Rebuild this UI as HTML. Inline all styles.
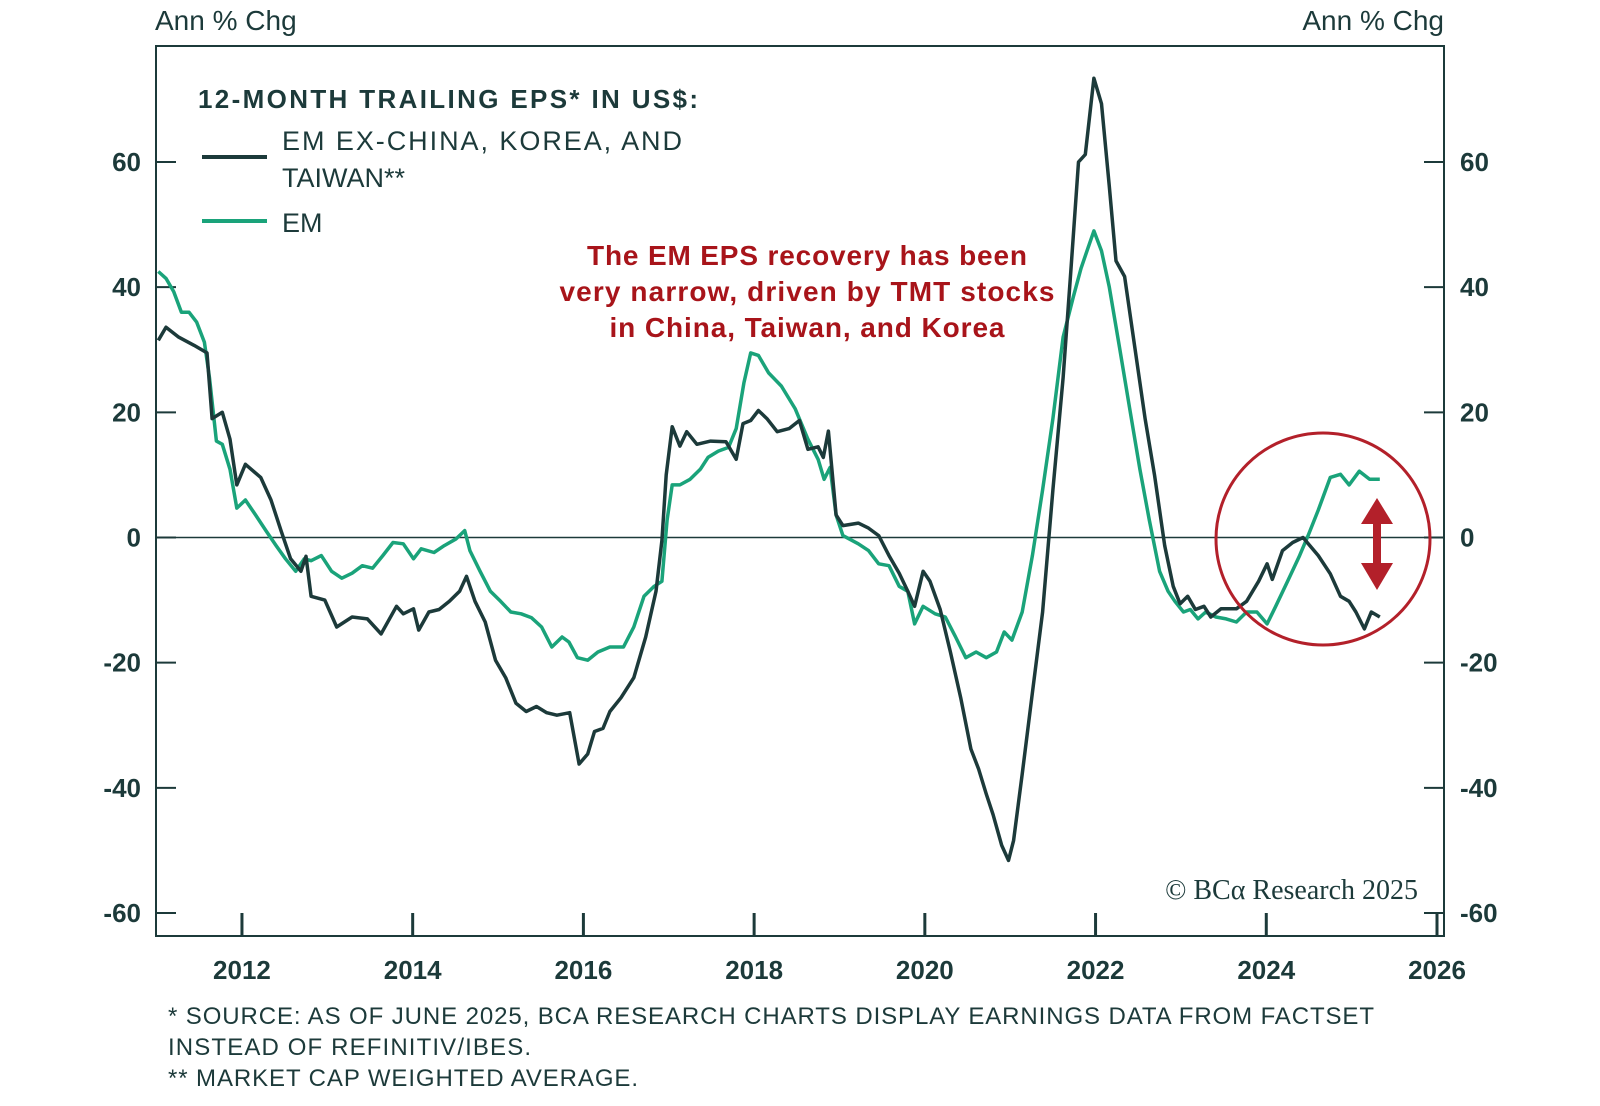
<!DOCTYPE html>
<html><head><meta charset="utf-8"><style>
html,body{margin:0;padding:0;background:#fff;}
svg{display:block;font-family:"Liberation Sans",sans-serif;}
</style></head><body>
<svg id="chart" width="1600" height="1106" viewBox="0 0 1600 1106" xmlns="http://www.w3.org/2000/svg">
<rect x="0" y="0" width="1600" height="1106" fill="#fff"/>
<text x="155" y="30" font-size="28" fill="#1c3a3a">Ann % Chg</text>
<text x="1444" y="30" font-size="28" fill="#1c3a3a" text-anchor="end">Ann % Chg</text>
<g id="grid"></g>
<g id="series"></g>
<rect x="156" y="46" width="1288" height="890" fill="none" stroke="#1c3a3a" stroke-width="2"/>
<g>
<text x="198" y="108" font-size="26" fill="#1c3a3a" font-weight="bold" textLength="500">12-MONTH TRAILING EPS* IN US$:</text>
<line x1="202" y1="157" x2="267" y2="157" stroke="#1c3a3a" stroke-width="4"/>
<text x="282" y="150" font-size="27" fill="#1c3a3a" textLength="400">EM EX-CHINA, KOREA, AND</text>
<text x="282" y="187" font-size="27" fill="#1c3a3a">TAIWAN**</text>
<line x1="202" y1="221" x2="267" y2="221" stroke="#1aa37a" stroke-width="4"/>
<text x="282" y="232" font-size="27" fill="#1c3a3a">EM</text>
</g>
<g fill="#a8141a" font-size="28" text-anchor="middle" font-weight="bold">
<text x="807" y="265" textLength="440">The EM EPS recovery has been</text>
<text x="807" y="301" textLength="495">very narrow, driven by TMT stocks</text>
<text x="807" y="337" textLength="395">in China, Taiwan, and Korea</text>
</g>
<ellipse cx="1323" cy="539" rx="107" ry="106" fill="none" stroke="#b3202a" stroke-width="3"/>
<g fill="#b3202a">
<rect x="1373" y="520" width="8" height="48"/>
<polygon points="1377,498 1361,524 1393,524"/>
<polygon points="1377,590 1361,563 1393,563"/>
</g>
<text x="1418" y="899" font-family="Liberation Serif, serif" font-size="28" fill="#1c3a3a" text-anchor="end">© BCα Research 2025</text>
<g font-size="24" fill="#1c3a3a">
<text x="168" y="1024" textLength="1206">* SOURCE: AS OF JUNE 2025, BCA RESEARCH CHARTS DISPLAY EARNINGS DATA FROM FACTSET</text>
<text x="168" y="1055" textLength="363">INSTEAD OF REFINITIV/IBES.</text>
<text x="168" y="1086" textLength="470">** MARKET CAP WEIGHTED AVERAGE.</text>
</g>
</svg>
<script>
const yTicks=[60,40,20,0,-20,-40,-60];
const xTickYears=[2012,2014,2016,2018,2020,2022,2024,2026];
const exDates=[2011.02,2011.11,2011.26,2011.44,2011.59,2011.65,2011.77,2011.86,2011.94,2012.04,2012.22,2012.34,2012.46,2012.57,2012.69,2012.75,2012.81,2012.97,2013.11,2013.29,2013.47,2013.63,2013.81,2013.89,2014.01,2014.07,2014.19,2014.31,2014.43,2014.55,2014.63,2014.73,2014.85,2014.97,2015.09,2015.21,2015.33,2015.45,2015.57,2015.69,2015.84,2015.95,2016.05,2016.13,2016.23,2016.31,2016.44,2016.59,2016.73,2016.85,2016.92,2016.97,2017.04,2017.13,2017.21,2017.33,2017.49,2017.67,2017.79,2017.87,2017.96,2018.05,2018.15,2018.27,2018.41,2018.53,2018.63,2018.75,2018.81,2018.87,2018.96,2019.04,2019.22,2019.34,2019.46,2019.58,2019.70,2019.80,2019.88,2019.98,2020.06,2020.18,2020.30,2020.42,2020.54,2020.63,2020.72,2020.80,2020.90,2020.98,2021.04,2021.14,2021.26,2021.38,2021.50,2021.62,2021.71,2021.80,2021.88,2021.98,2022.07,2022.16,2022.24,2022.34,2022.46,2022.58,2022.69,2022.81,2022.91,2022.99,2023.08,2023.17,2023.27,2023.35,2023.47,2023.65,2023.77,2023.91,2024.01,2024.07,2024.19,2024.31,2024.43,2024.61,2024.75,2024.87,2024.97,2025.05,2025.15,2025.23,2025.33];
const exValues=[31.5,33.6,32,30.7,29.5,19,20,15.7,8.4,11.7,9.6,6,1,-3.4,-5.4,-3,-9.4,-10,-14.3,-12.7,-13,-15.4,-11,-12.2,-11.4,-14.8,-11.9,-11.5,-10.2,-8.6,-6.2,-10.2,-13.5,-19.6,-22.4,-26.5,-27.8,-27,-28,-28.4,-28,-36.2,-34.6,-31,-30.5,-27.8,-25.6,-22.4,-15.9,-8.6,-0.5,10,17.7,14.6,16.9,14.9,15.4,15.3,12.5,18.2,18.7,20.3,19,16.9,17.4,18.7,14.1,14.5,12.8,17,3.6,1.9,2.3,1.5,0.3,-2.9,-5.7,-8.6,-11,-5.4,-7,-11.5,-18.3,-25.6,-33.8,-37,-41,-44.3,-49.2,-51.6,-48.4,-37.8,-24.8,-11.9,7.6,25.5,42.5,60,61.2,73.4,69.3,56.3,44.2,41.7,30.4,19,10,-1.3,-7.8,-10.6,-9.4,-11.5,-11,-12.7,-11.4,-11.4,-10.2,-7,-4.2,-6.7,-2.1,-0.8,0,-2.9,-5.8,-9.4,-10.2,-11.9,-14.6,-11.9,-12.7];
const emDates=[2011.02,2011.11,2011.20,2011.29,2011.38,2011.47,2011.56,2011.62,2011.70,2011.77,2011.86,2011.94,2012.04,2012.16,2012.28,2012.40,2012.51,2012.63,2012.73,2012.81,2012.93,2013.05,2013.17,2013.29,2013.41,2013.53,2013.65,2013.77,2013.89,2014.01,2014.10,2014.25,2014.37,2014.51,2014.61,2014.67,2014.79,2014.91,2015.03,2015.15,2015.27,2015.39,2015.51,2015.63,2015.75,2015.83,2015.93,2016.05,2016.17,2016.31,2016.47,2016.59,2016.71,2016.83,2016.92,2016.98,2017.04,2017.13,2017.25,2017.37,2017.46,2017.58,2017.70,2017.79,2017.88,2017.96,2018.05,2018.17,2018.32,2018.48,2018.63,2018.75,2018.82,2018.89,2018.96,2019.04,2019.22,2019.34,2019.46,2019.58,2019.70,2019.80,2019.88,2019.98,2020.12,2020.24,2020.36,2020.48,2020.60,2020.72,2020.84,2020.93,2021.02,2021.14,2021.26,2021.38,2021.50,2021.62,2021.74,2021.83,2021.92,2021.98,2022.07,2022.16,2022.28,2022.40,2022.52,2022.63,2022.75,2022.85,2022.93,2023.03,2023.11,2023.20,2023.29,2023.41,2023.53,2023.65,2023.77,2023.89,2024.01,2024.11,2024.25,2024.39,2024.49,2024.61,2024.75,2024.87,2024.97,2025.09,2025.21,2025.33];
const emValues=[42.5,41.4,39.3,36,36,34.4,31.2,25.5,15.4,14.9,10.9,4.7,6,3.6,1.1,-1.3,-3.4,-5.4,-3.4,-3.7,-2.9,-5.4,-6.5,-5.7,-4.5,-4.9,-2.9,-0.8,-1,-3.4,-1.8,-2.4,-1.3,-0.2,1.1,-2.1,-5.4,-8.6,-10.2,-11.9,-12.2,-12.8,-14.3,-17.5,-15.9,-16.7,-19.2,-19.6,-18.3,-17.5,-17.5,-14.3,-9.4,-7.8,-7,2.8,8.4,8.4,9.3,10.9,12.8,13.8,14.4,17.4,24.7,29.5,29.1,26.3,24.2,20.6,15.7,12.5,9.3,11.2,3.6,0.3,-1,-2.1,-4.2,-4.5,-7.8,-8.6,-13.8,-11,-12.2,-12.7,-15.9,-19.2,-18.3,-19.2,-18.3,-15.1,-16.4,-11.9,-2.9,7.6,19,32,38.5,43,46.6,49,45.8,40.1,30.4,20.6,10.9,2.8,-5.4,-8.6,-10.2,-11.9,-11.5,-13,-11.9,-12.7,-13,-13.5,-11.9,-11.9,-13.8,-11,-7,-2.9,0.3,4.4,9.6,10.1,8.4,10.6,9.3,9.3];

const NS='http://www.w3.org/2000/svg';
function xScale(yr){return 156.6+(yr-2011)*85.36;}
function yScale(v){return 537.5-v*6.258;}
function mk(tag,attrs,parent){const e=document.createElementNS(NS,tag);for(const k in attrs)e.setAttribute(k,attrs[k]);parent.appendChild(e);return e;}
const grid=document.getElementById('grid');
const series=document.getElementById('series');
const C='#1c3a3a';
yTicks.forEach(v=>{
  const y=yScale(v);
  const t1=mk('line',{x1:156,y1:y,x2:176,y2:y,stroke:C,'stroke-width':2},grid);
  
  
  const t2=mk('line',{x1:1424,y1:y,x2:1444,y2:y,stroke:C,'stroke-width':2},grid);
  
  
  const l=mk('text',{x:141,y:y+9,'font-size':26,fill:C,'text-anchor':'end','font-weight':'bold'},grid);
  l.textContent=String(v);
  
  
  const r=mk('text',{x:1460,y:y+9,'font-size':26,fill:C,'font-weight':'bold'},grid);
  r.textContent=String(v);
  
  
});
const zl=mk('line',{x1:156,y1:yScale(0),x2:1444,y2:yScale(0),stroke:C,'stroke-width':1.5},grid);


xTickYears.forEach(yr=>{
  const x=xScale(yr);
  const t=mk('line',{x1:x,y1:913,x2:x,y2:936,stroke:C,'stroke-width':3},grid);
  
  
  const l=mk('text',{x:x,y:979,'font-size':26,fill:C,'text-anchor':'middle','font-weight':'bold'},grid);
  l.textContent=String(yr);
  
  
});
function line(dates,vals){
  return dates.map((d,i)=>(i?'L':'M')+xScale(d).toFixed(1)+','+yScale(vals[i]).toFixed(1)).join(' ');
}
const pEm=mk('path',{d:line(emDates,emValues),fill:'none',stroke:'#1aa37a','stroke-width':3.5,'stroke-linejoin':'round'},series);


const pEx=mk('path',{d:line(exDates,exValues),fill:'none',stroke:'#1c3a3a','stroke-width':3.5,'stroke-linejoin':'round'},series);


</script>
</body></html>
